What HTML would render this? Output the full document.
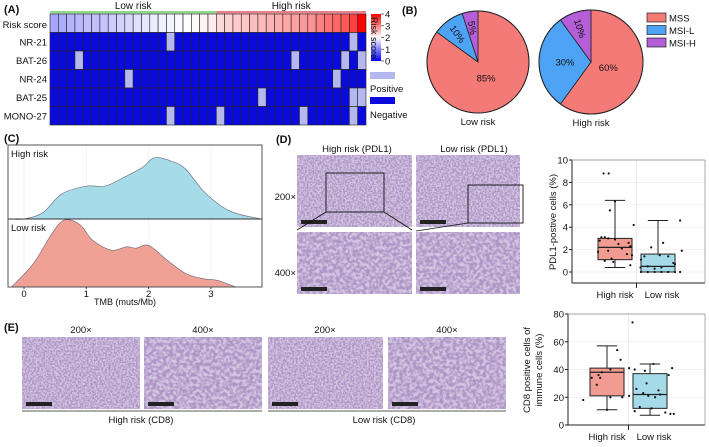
<!DOCTYPE html>
<html><head><meta charset="utf-8"><style>
body{margin:0;background:#fff;width:709px;height:442px;overflow:hidden;font-family:"Liberation Sans",Arial,sans-serif}
svg text{font-family:"Liberation Sans",Arial,sans-serif}
</style></head><body>
<svg id="fig" width="709" height="442" viewBox="0 0 709 442" xmlns="http://www.w3.org/2000/svg">
<defs>
<filter id="tis" x="0" y="0" width="100%" height="100%">
<feTurbulence type="fractalNoise" baseFrequency="0.55" numOctaves="2" seed="3"/>
<feColorMatrix type="matrix" values="0 0 0 0 0.42  0 0 0 0 0.30  0 0 0 0 0.56  3.6 0 0 0 -1.3"/>
</filter>
<filter id="tis2" x="0" y="0" width="100%" height="100%">
<feTurbulence type="fractalNoise" baseFrequency="0.3" numOctaves="2" seed="7"/>
<feColorMatrix type="matrix" values="0 0 0 0 0.42  0 0 0 0 0.30  0 0 0 0 0.56  3.6 0 0 0 -1.25"/>
</filter>
</defs>
<g id="gA"></g>
<g id="gB"></g>
<g id="gC"></g>
<g id="gD"></g>
<g id="gE"></g>
</svg>
<script>
// ---------- data ----------
const riskScores=[1.3,1.35,1.4,1.45,1.5,1.5,1.55,1.6,1.65,1.7,1.75,1.8,1.85,1.9,1.92,1.95,2.0,2.05,2.1,2.15,2.3,2.35,2.4,2.45,2.5,2.55,2.6,2.65,2.7,2.75,2.8,2.85,3.0,3.1,3.2,3.3,3.5,4.0];
const markers=["NR-21","BAT-26","NR-24","BAT-25","MONO-27"];
const posNR21=[14,36];
const posBAT26=[3,29,35,37];
const posNR24=[9,34];
const posBAT25=[25,36,37];
const posMONO27=[14,20,30,36];
const lowRiskCount=20;

const pieCats=["MSS","MSI-L","MSI-H"];
const pieLow=[85,10,5];
const pieHigh=[60,30,10];

const tmbX=[-0.2,0,0.3,0.6,1.0,1.3,1.6,1.9,2.1,2.4,2.6,2.9,3.3,3.8];
const densHigh=[0,0,0.1,0.4,0.53,0.53,0.67,0.83,0.99,0.92,0.8,0.43,0.13,0];
const tmbXLow=[-0.2,0.15,0.45,0.65,0.9,1.1,1.4,1.65,1.8,2.0,2.3,2.6,2.9,3.1,3.4];
const densLow=[0,0.35,0.8,1.0,0.93,0.7,0.55,0.6,0.58,0.62,0.4,0.2,0.12,0.1,0];
const tmbTicks=[0,1,2,3];

const pdlTicks=[0,2,4,6,8,10];
const pdlHighBox=[0.4,1.1,2.2,3.0,6.4];
const pdlLowBox=[0,0,0.5,1.6,4.6];
const pdlHighPts=[6.3,5.5,4.2,3.1,3.1,3.0,2.9,2.8,2.6,2.5,2.3,2.1,1.9,1.8,1.6,1.5,1.2,1.0,0.9,0.6,0.4,0.4];
const pdlHighJit=[0,-0.3,1.1,-0.8,-0.6,-0.4,0,-0.9,0.8,0.2,0.9,0.4,-0.4,-1,0.7,1,-0.2,-0.6,-0.1,0.9,1.5,1.7];
const pdlLowPts=[8.8,8.8,4.6,2.6,2.2,1.9,1.5,1.4,1.4,1.1,0.8,0.7,0.5,0.4,0.3,0,0,0,0,0,0,0];
const pdlLowJit=[-3.2,-2.9,1.3,0.3,-0.4,1.4,0.1,-0.8,0.6,-1,0.9,1,-0.6,0.2,-0.2,-1,-0.6,-0.2,0.2,0.6,1,1.3];
const cd8Ticks=[0,20,40,60,80];
const cd8HighBox=[11,21,38,41,57];
const cd8LowBox=[7,12,22,37,44];
const cd8HighPts=[74,54,47,41,40,38,36,34,34,29,21,20,20,18,11];
const cd8HighJit=[1.5,0.6,0.8,1.3,0.2,-0.3,-0.5,-0.9,-0.4,-0.6,1.3,0.2,0.9,-1.4,0];
const cd8LowPts=[44,41,40,39,36,30,26,25,23,22,21,20,13,12,10,9,8,8];
const cd8LowJit=[0.2,1.3,-0.9,-0.3,1.1,-0.2,-0.8,0.5,-0.4,0.6,-0.1,0.3,-0.6,0.1,-0.9,0.9,1.2,1.4];

// ---------- helpers ----------
const NS="http://www.w3.org/2000/svg";
function mk(parent,tag,attrs,txt){const e=document.createElementNS(NS,tag);for(const k in attrs)e.setAttribute(k,attrs[k]);if(txt!==undefined)e.textContent=txt;parent.appendChild(e);return e;}
function txt(parent,x,y,s,size,anchor,name,extra){const e=mk(parent,"text",Object.assign({x:x,y:y,"font-size":size,"text-anchor":anchor||"start",fill:"#111"},extra||{}),s);


return e;}

// ---------- Panel A ----------
const gA=document.getElementById("gA");
txt(gA,4,13,"(A)",11,"start","panel-a-label",{"font-weight":"bold"});
const hx0=50,hx1=366,colW=(hx1-hx0)/riskScores.length;
const rowTop=14;
const nCols=riskScores.length;
function riskColor(v){let t;if(v<2){t=v/2;const r=Math.round(255*t),g=Math.round(255*t);return `rgb(${r},${g},255)`;}t=(v-2)/2;const gg=Math.round(255*(1-t));return `rgb(255,${gg},${gg})`;}
mk(gA,"rect",{x:hx0,y:11,width:colW*lowRiskCount,height:2.5,fill:"#8fd88a"});
mk(gA,"rect",{x:hx0+colW*lowRiskCount,y:11,width:colW*(nCols-lowRiskCount),height:2.5,fill:"#e8808c"});
txt(gA,hx0+colW*lowRiskCount/2,9,"Low risk",10,"middle","low-risk-group-label");
txt(gA,hx0+colW*(lowRiskCount+(nCols-lowRiskCount)/2),9,"High risk",10,"middle","high-risk-group-label");
riskScores.forEach((v,i)=>{const r=mk(gA,"rect",{x:hx0+i*colW,y:rowTop,width:colW,height:18.5,fill:riskColor(v),stroke:"#222","stroke-width":0.6});

});
txt(gA,47,28,"Risk score",9.5,"end","row-label-risk-score");
const posList=[posNR21,posBAT26,posNR24,posBAT25,posMONO27];
markers.forEach((m,ri)=>{const y=rowTop+18.5*(ri+1);
for(let i=0;i<nCols;i++){const pos=posList[ri].includes(i);
const r=mk(gA,"rect",{x:hx0+i*colW,y:y,width:colW,height:18.5,fill:pos?"#b4b8ee":"#0a0adc",stroke:"#222","stroke-width":0.6});

}
txt(gA,47,y+13,m,9.5,"end","row-label-"+m.toLowerCase());});
const cb=mk(gA,"defs",{});const lg=mk(cb,"linearGradient",{id:"cbg",x1:0,y1:1,x2:0,y2:0});
mk(lg,"stop",{offset:"0","stop-color":"#0000ff"});mk(lg,"stop",{offset:"0.5","stop-color":"#ffffff"});mk(lg,"stop",{offset:"1","stop-color":"#ff0000"});
const cbr=mk(gA,"rect",{x:371,y:14,width:10,height:47,fill:"url(#cbg)"});


[0,1,2,3,4].forEach(t=>{const y=61-t*47/4;mk(gA,"line",{x1:381,x2:384,y1:y,y2:y,stroke:"#333","stroke-width":0.7});txt(gA,385,y+3.5,String(t),9.5,"start","colorbar-tick");});
txt(gA,0,0,"Risk score",9,"middle","colorbar-title",{transform:"translate(371,38) rotate(90)"});
const lp=mk(gA,"rect",{x:370,y:72,width:25,height:7,fill:"#b4b8ee"});
txt(gA,370,92,"Positive",9.5,"start","legend-positive");
const ln=mk(gA,"rect",{x:370,y:97,width:25,height:7,fill:"#0a0adc"});
txt(gA,370,118,"Negative",9.5,"start","legend-negative");

// ---------- Panel B ----------
const gB=document.getElementById("gB");
txt(gB,402,14,"(B)",11,"start","panel-b-label",{"font-weight":"bold"});
const pieColors=["#f47a78","#4da3f5","#b45ed8"];
function pie(cx,cy,r,vals,label,name){
 let a=0;const tot=vals.reduce((s,v)=>s+v,0);
 vals.forEach((v,i)=>{const a0=a,a1=a+v/tot*2*Math.PI;a=a1;
  const x0=cx+r*Math.sin(a0),y0=cy-r*Math.cos(a0),x1=cx+r*Math.sin(a1),y1=cy-r*Math.cos(a1);
  const p=mk(gB,"path",{d:`M${cx},${cy} L${x0},${y0} A${r},${r} 0 ${(a1-a0)>Math.PI?1:0} 1 ${x1},${y1} Z`,fill:pieColors[i],stroke:"#222","stroke-width":0.8});
  
  
  const am=(a0+a1)/2,rr=i===0?r*0.35:(v>=20?r*0.5:r*0.68);
  const tx=cx+rr*Math.sin(am),ty=cy-rr*Math.cos(am);
  const rot=(i===0||v>=20)?0:(am*180/Math.PI-270);
  txt(gB,tx,ty+3.5,v+"%",9.5,"middle","pie-label",rot?{transform:`rotate(${rot} ${tx} ${ty})`}:{});
 });
 mk(gB,"circle",{cx:cx,cy:cy,r:r,fill:"none",stroke:"#222","stroke-width":1});
 txt(gB,cx,cy+r+12,label,9.5,"middle",name);
}
pie(478,62,51,pieLow,"Low risk","pie-low-risk-title");
pie(591,62,52,pieHigh,"High risk","pie-high-risk-title");
pieCats.forEach((c,i)=>{const y=13+i*12.5;const s=mk(gB,"rect",{x:647,y:y,width:19,height:9,fill:pieColors[i],stroke:"#222","stroke-width":0.7});

txt(gB,669,y+8.5,c,9.5,"start","legend-entry-"+c.toLowerCase());});

// ---------- Panel C ----------
const gC=document.getElementById("gC");
txt(gC,4,142,"(C)",11,"start","panel-c-label",{"font-weight":"bold"});
const cL=8,cR=262,cT=145,cM=219,cB=287;
const xC=v=>24+62.3*v;
function dens(xs,ys,base,h,fill,name){
 let d=`M${xC(xs[0])},${base}`;
 const pts=xs.map((x,i)=>[xC(x),base-ys[i]*h]);
 d+=` L${pts[0][0]},${pts[0][1]}`;
 for(let i=0;i<pts.length-1;i++){const p0=pts[Math.max(0,i-1)],p1=pts[i],p2=pts[i+1],p3=pts[Math.min(pts.length-1,i+2)];
  d+=` C${p1[0]+(p2[0]-p0[0])/6},${p1[1]+(p2[1]-p0[1])/6} ${p2[0]-(p3[0]-p1[0])/6},${p2[1]-(p3[1]-p1[1])/6} ${p2[0]},${p2[1]}`;}
 d+=` L${pts[pts.length-1][0]},${base} Z`;
 const p=mk(gC,"path",{d:d,fill:fill,stroke:"#667","stroke-width":0.6});
 
 
}
tmbTicks.forEach(t=>{mk(gC,"line",{x1:xC(t),x2:xC(t),y1:cT,y2:cB,stroke:"#eee","stroke-width":0.6});});
dens(tmbX,densHigh,cM,62,"#a6dbe8","density-high-risk");
dens(tmbXLow,densLow,cB,67,"#f0a196","density-low-risk");
mk(gC,"rect",{x:cL,y:cT,width:cR-cL,height:cB-cT,fill:"none",stroke:"#555","stroke-width":1});
mk(gC,"line",{x1:cL,x2:cR,y1:cM,y2:cM,stroke:"#333","stroke-width":1});
txt(gC,11,157,"High risk",9.5,"start","density-label-high");
txt(gC,11,231,"Low risk",9.5,"start","density-label-low");
tmbTicks.forEach(t=>{mk(gC,"line",{x1:xC(t),x2:xC(t),y1:cB,y2:cB+2,stroke:"#333"});txt(gC,xC(t),cB+10,String(t),9.5,"middle","x-tick-label");});
txt(gC,125,305,"TMB (muts/Mb)",9,"middle","x-axis-title");

// ---------- micrograph helper ----------
function micro(g,x,y,w,h,name,f){
 const r=mk(g,"rect",{x:x,y:y,width:w,height:h,fill:"#d4c6e2"});
 
 
 mk(g,"rect",{x:x,y:y,width:w,height:h,filter:"url(#"+(f||"tis")+")"});
 mk(g,"rect",{x:x+4,y:y+h-7,width:26,height:4,fill:"#222"});
}

// ---------- Panel D ----------
const gD=document.getElementById("gD");
txt(gD,276,143,"(D)",11,"start","panel-d-label",{"font-weight":"bold"});
txt(gD,357,152,"High risk (PDL1)",9.5,"middle","col-title-high-pdl1");
txt(gD,474,152,"Low risk (PDL1)",9.5,"middle","col-title-low-pdl1");
txt(gD,296,200,"200×",9.5,"end","mag-200");
txt(gD,296,276,"400×",9.5,"end","mag-400");
micro(gD,297,155,115,72,"micrograph-high-200");
micro(gD,416,155,104,72,"micrograph-low-200");
micro(gD,297,232,115,62,"micrograph-high-400","tis2");
micro(gD,416,232,104,62,"micrograph-low-400","tis2");
mk(gD,"rect",{x:326,y:173,width:58,height:39,fill:"none",stroke:"#111","stroke-width":0.9});
mk(gD,"rect",{x:468,y:185,width:55,height:38,fill:"none",stroke:"#111","stroke-width":0.9});
mk(gD,"line",{x1:326,y1:212,x2:297,y2:230,stroke:"#111","stroke-width":0.8});
mk(gD,"line",{x1:384,y1:212,x2:412,y2:230,stroke:"#111","stroke-width":0.8});
mk(gD,"line",{x1:468,y1:223,x2:416,y2:231,stroke:"#111","stroke-width":0.8});

function boxplot(g,L,R,T,Z,B,ticks,ymax,hb,lb,hp,hj,lp,lj,xh,xl,bw,pfx){
 const yS=v=>Z-(v/ymax)*(Z-T);
 ticks.forEach(t=>{mk(g,"line",{x1:L,x2:R,y1:yS(t),y2:yS(t),stroke:"#eee","stroke-width":0.7});});
 mk(g,"line",{x1:(xh+xl)/2,x2:(xh+xl)/2,y1:T,y2:B,stroke:"#e6e6e6","stroke-width":0.7});
 [[hb,xh,"#f29b92",hp,hj,"high"],[lb,xl,"#a5dbe8",lp,lj,"low"]].forEach(([b,cx,col,pts,jit,nm])=>{
  mk(g,"line",{x1:cx,x2:cx,y1:yS(b[0]),y2:yS(b[4]),stroke:"#222","stroke-width":1});
  [b[0],b[4]].forEach(v=>mk(g,"line",{x1:cx-bw*0.3,x2:cx+bw*0.3,y1:yS(v),y2:yS(v),stroke:"#222","stroke-width":1}));
  const r=mk(g,"rect",{x:cx-bw/2,y:yS(b[3]),width:bw,height:yS(b[1])-yS(b[3]),fill:col,stroke:"#222","stroke-width":1});
  
  
  mk(g,"line",{x1:cx-bw/2,x2:cx+bw/2,y1:yS(b[2]),y2:yS(b[2]),stroke:"#222","stroke-width":1.2});
  pts.forEach((v,i)=>{const c=mk(g,"circle",{cx:cx+jit[i]*bw*0.5,cy:yS(v),r:1.1,fill:"#111"});
   
   });
 });
 mk(g,"line",{x1:L,x2:L,y1:T,y2:B,stroke:"#222","stroke-width":1});
 mk(g,"line",{x1:L,x2:R,y1:B,y2:B,stroke:"#222","stroke-width":1});
 mk(g,"line",{x1:L,x2:R,y1:T,y2:T,stroke:"#888","stroke-width":0.7});
 mk(g,"line",{x1:R,x2:R,y1:T,y2:B,stroke:"#888","stroke-width":0.7});
 mk(g,"line",{x1:(xh+xl)/2,x2:(xh+xl)/2,y1:B,y2:B+5,stroke:"#222","stroke-width":1});
 ticks.forEach(t=>{mk(g,"line",{x1:L-3,x2:L,y1:yS(t),y2:yS(t),stroke:"#222"});txt(g,L-4,yS(t)+3.5,String(t),9.5,"end",pfx+"-y-tick");});
 txt(g,xh,B+15,"High risk",9.5,"middle",pfx+"-x-label-high");
 txt(g,xl+4,B+15,"Low risk",9.5,"middle",pfx+"-x-label-low");
}
boxplot(gD,572,705,160,272,283,pdlTicks,10,pdlHighBox,pdlLowBox,pdlHighPts,pdlHighJit,pdlLowPts,pdlLowJit,615,658,34,"pdl1");
txt(gD,0,0,"PDL1-postive cells (%)",9.5,"middle","pdl1-y-axis-title",{transform:"translate(556,222) rotate(-90)"});

// ---------- Panel E ----------
const gE=document.getElementById("gE");
txt(gE,4,331,"(E)",11,"start","panel-e-label",{"font-weight":"bold"});
micro(gE,22,337,118,72,"micrograph-high-cd8-200");
micro(gE,144,337,118,72,"micrograph-high-cd8-400","tis2");
micro(gE,268,337,115,72,"micrograph-low-cd8-200");
micro(gE,388,337,118,72,"micrograph-low-cd8-400","tis2");
txt(gE,81,333,"200×",9.5,"middle","mag-label");
txt(gE,203,333,"400×",9.5,"middle","mag-label");
txt(gE,325,333,"200×",9.5,"middle","mag-label");
txt(gE,447,333,"400×",9.5,"middle","mag-label");
mk(gE,"line",{x1:22,x2:262,y1:411,y2:411,stroke:"#222","stroke-width":0.8});
mk(gE,"line",{x1:268,x2:506,y1:411,y2:411,stroke:"#222","stroke-width":0.8});
txt(gE,141,423,"High risk (CD8)",9.5,"middle","group-label-high-cd8");
txt(gE,384,423,"Low risk (CD8)",9.5,"middle","group-label-low-cd8");
boxplot(gE,568,705,314,425,425,cd8Ticks,80,cd8HighBox,cd8LowBox,cd8HighPts,cd8HighJit,cd8LowPts,cd8LowJit,607,650,34,"cd8");
txt(gE,0,0,"CD8 positive cells of",9.5,"middle","cd8-y-axis-title-1",{transform:"translate(530,370) rotate(-90)"});
txt(gE,0,0,"immune cells (%)",9.5,"middle","cd8-y-axis-title-2",{transform:"translate(542,370) rotate(-90)"});
</script>
</body></html>
